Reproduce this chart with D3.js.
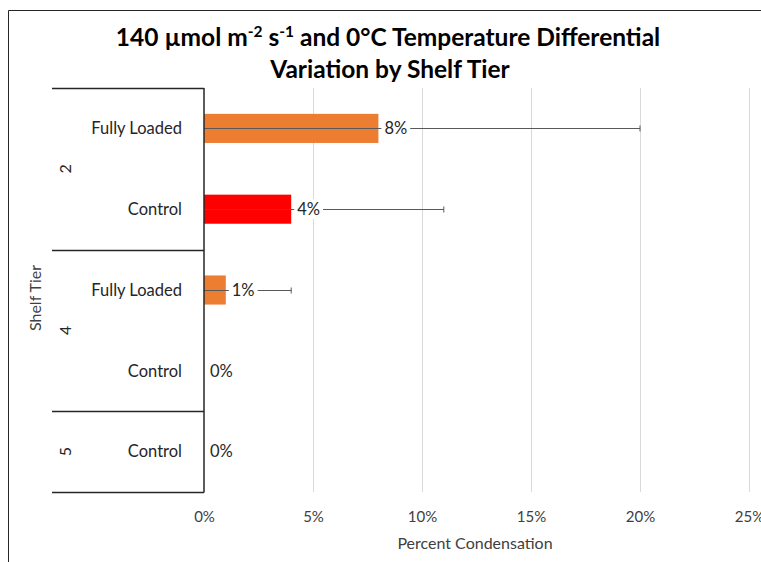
<!DOCTYPE html>
<html>
<head>
<meta charset="utf-8">
<script src="https://cdn.jsdelivr.net/npm/d3@7/dist/d3.min.js"></script>
<style>
  html, body { margin: 0; padding: 0; background: #fff; }
  svg { display: block; font-family: Lato, "Open Sans", sans-serif; }
</style>
</head>
<body>
<svg id="chart" width="761" height="562"></svg>
<script>
// Shelf tier groups and treatments, top to bottom
const tiers = ["2", "2", "4", "4", "5"];
const treatments = ["Fully Loaded", "Control", "Fully Loaded", "Control", "Control"];
// Percent condensation and error amount (percent)
const values = [8, 4, 1, 0, 0];
const errors = [12, 7, 3, 0, 0];
const xTicks = [0, 5, 10, 15, 20, 25];
const barColors = ["#ED7D31", "#FF0000", "#ED7D31", "#ED7D31", "#FF0000"];

const svg = d3.select("#chart");
const plot = { left: 204, right: 749, top: 88, bottom: 492 };

// Chart frame
svg.append("path")
  .attr("d", "M8.5,562 V10.5 H761")
  .attr("fill", "none").attr("stroke", "#262626").attr("stroke-width", 1);

const x = d3.scaleLinear().domain([0, 25]).range([plot.left, plot.right]);
const rows = d3.range(values.length);
const y = d3.scaleBand().domain(rows).range([plot.top, plot.bottom]).paddingInner(0).paddingOuter(0);
const barH = y.bandwidth() * 0.36;

// Vertical gridlines
svg.append("g").selectAll("line").data(xTicks.filter(t => t > 0)).join("line")
  .attr("x1", d => Math.round(x(d)) + 0.5).attr("x2", d => Math.round(x(d)) + 0.5)
  .attr("y1", plot.top).attr("y2", plot.bottom)
  .attr("stroke", "#d9d9d9").attr("stroke-width", 1);

// X axis tick labels
const xAxis = d3.axisBottom(x).tickValues(xTicks).tickFormat(d => d + "%").tickSize(0).tickPadding(0);
const xg = svg.append("g").attr("transform", `translate(0,${plot.bottom + 30})`).call(xAxis);
xg.select(".domain").remove();
xg.selectAll("text").attr("font-size", 15).attr("fill", "#404040")
  .attr("font-family", "Lato, 'Open Sans', sans-serif").attr("dy", 0);

// Bars
svg.append("g").selectAll("rect").data(rows.filter(i => values[i] > 0)).join("rect")
  .attr("x", x(0))
  .attr("y", i => y(i) + (y.bandwidth() - barH) / 2)
  .attr("width", i => x(values[i]) - x(0))
  .attr("height", barH)
  .attr("fill", i => barColors[i]);

// Error bars (clipped at the axis)
const eg = svg.append("g").attr("stroke", "#595959").attr("stroke-width", 1);
rows.filter(i => errors[i] > 0).forEach(i => {
  const cy = Math.round(y(i) + y.bandwidth() / 2) + 0.5;
  const lo = Math.max(0, values[i] - errors[i]);
  const hi = values[i] + errors[i];
  eg.append("line").attr("x1", x(lo)).attr("x2", x(hi)).attr("y1", cy).attr("y2", cy);
  eg.append("line").attr("x1", x(hi)).attr("x2", x(hi)).attr("y1", cy - 3).attr("y2", cy + 3);
  if (lo > 0) eg.append("line").attr("x1", x(lo)).attr("x2", x(lo)).attr("y1", cy - 3).attr("y2", cy + 3);
});

// Value labels with white backing
const lg = svg.append("g");
rows.forEach(i => {
  const cy = y(i) + y.bandwidth() / 2;
  const tx = x(values[i]) + 6;
  const g = lg.append("g");
  const t = g.append("text").attr("x", tx).attr("y", cy).attr("dy", "0.35em")
    .attr("font-size", 16.5).attr("fill", "#262626").text(values[i] + "%");
  const bb = t.node().getBBox();
  g.insert("rect", "text").attr("x", bb.x - 3).attr("y", bb.y).attr("width", bb.width + 6)
    .attr("height", bb.height).attr("fill", "#fff");
});

// Category axis: vertical line
svg.append("line").attr("x1", plot.left).attr("x2", plot.left)
  .attr("y1", plot.top).attr("y2", plot.bottom + 0.5)
  .attr("stroke", "#262626").attr("stroke-width", 1.5);

// Treatment labels
svg.append("g").selectAll("text").data(rows).join("text")
  .attr("x", 182).attr("y", i => y(i) + y.bandwidth() / 2).attr("dy", "0.35em")
  .attr("text-anchor", "end").attr("font-size", 16.5).attr("fill", "#262626")
  .text(i => treatments[i]);

// Tier groups: separators and rotated labels
const groups = [];
rows.forEach(i => {
  const last = groups[groups.length - 1];
  if (last && last.tier === tiers[i]) last.end = i;
  else groups.push({ tier: tiers[i], start: i, end: i });
});
const sepY = [plot.top].concat(groups.map(g => y(g.end) + y.bandwidth()));
svg.append("g").selectAll("line").data(sepY).join("line")
  .attr("x1", 52).attr("x2", plot.left)
  .attr("y1", d => Math.round(d) + 0.5).attr("y2", d => Math.round(d) + 0.5)
  .attr("stroke", "#262626").attr("stroke-width", 1.5);
svg.append("g").selectAll("text").data(groups).join("text")
  .attr("transform", g => `translate(65,${(y(g.start) + y(g.end) + y.bandwidth()) / 2}) rotate(-90)`)
  .attr("dy", "0.35em").attr("text-anchor", "middle")
  .attr("font-size", 16).attr("fill", "#262626")
  .text(g => g.tier);

// Axis titles
svg.append("text").attr("transform", `translate(35,${(plot.top + plot.bottom) / 2 + 8}) rotate(-90)`)
  .attr("dy", "0.35em").attr("text-anchor", "middle").attr("font-size", 16).attr("fill", "#404040")
  .text("Shelf Tier");
svg.append("text").attr("x", 475).attr("y", 549).attr("text-anchor", "middle")
  .attr("font-size", 16).attr("fill", "#404040").text("Percent Condensation");

// Title
const title = svg.append("text").attr("text-anchor", "middle").attr("font-weight", "bold")
  .attr("font-size", 24.5).attr("fill", "#000");
const l1 = title.append("tspan").attr("x", 388).attr("y", 46);
l1.append("tspan").text("140 µmol m");
l1.append("tspan").attr("dy", -9).attr("font-size", 15.5).text("-2");
l1.append("tspan").attr("dy", 9).text(" s");
l1.append("tspan").attr("dy", -9).attr("font-size", 15.5).text("-1");
l1.append("tspan").attr("dy", 9).text(" and 0°C Temperature Differential");
title.append("tspan").attr("x", 390).attr("y", 78).text("Variation by Shelf Tier");
</script>
</body>
</html>
